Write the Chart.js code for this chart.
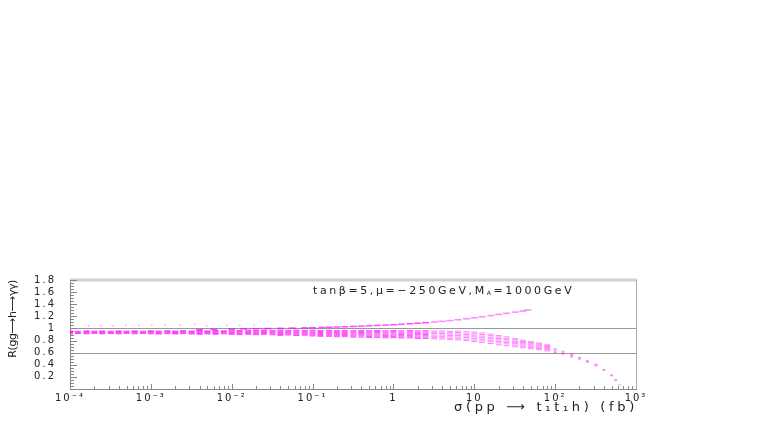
<!DOCTYPE html>
<html>
<head>
<meta charset="utf-8">
<script src="https://cdn.jsdelivr.net/npm/chart.js@4/dist/chart.umd.min.js"></script>
<style>
  html, body { margin: 0; padding: 0; background: #fff; }
  #chart { display: block; }
</style>
</head>
<body>
<canvas id="chart" width="763" height="436"></canvas>
<script>
// x axis: sigma(pp -> t1 t1 h) in fb, log scale
const xMin = 1e-4;
const xMax = 1e3;
const xTickValues = [1e-4, 1e-3, 1e-2, 1e-1, 1, 10, 1e2, 1e3];
const xTickLabels = ['10⁻⁴', '10⁻³', '10⁻²', '10⁻¹', '1', '10', '10²', '10³'];

// y axis: R(gg -> h -> gamma gamma)
const yMin = 0;
const yMax = 1.8;
const yStep = 0.2;
const refLines = [1, 0.6];

// main band: one x column and the y values read at that column
const bandX = [
  1.0e-4, 1.25e-4, 1.6e-4, 2.0e-4, 2.5e-4, 3.2e-4, 4.0e-4, 5.0e-4, 6.3e-4, 8.0e-4,
  1.0e-3, 1.25e-3, 1.6e-3, 2.0e-3, 2.5e-3, 3.2e-3, 4.0e-3, 5.0e-3, 6.3e-3, 8.0e-3,
  1.0e-2, 1.25e-2, 1.6e-2, 2.0e-2, 2.5e-2, 3.2e-2, 4.0e-2, 5.0e-2, 6.3e-2, 8.0e-2,
  0.1, 0.125, 0.16, 0.2, 0.25, 0.32, 0.4, 0.5, 0.63, 0.8,
  1, 1.25, 1.6, 2, 2.5, 3.2, 4, 5, 6.3, 8,
  10, 12.5, 16, 20, 25, 32, 40, 50, 63, 80,
  100, 125, 160, 200, 250, 320, 400, 500, 560, 630
];
const bandY = [
  [0.958, 0.946, 0.934, 0.921, 0.910],
  [0.953, 0.941, 0.929, 0.917],
  [0.960, 0.948, 0.936, 0.923, 0.912],
  [0.955, 0.943, 0.931, 0.918],
  [0.959, 0.947, 0.935, 0.922, 0.911],
  [0.954, 0.942, 0.930, 0.916],
  [0.960, 0.948, 0.936, 0.924, 0.912],
  [0.956, 0.944, 0.931, 0.918],
  [0.961, 0.949, 0.937, 0.925, 0.911],
  [0.955, 0.943, 0.930, 0.917],

  [0.962, 0.950, 0.938, 0.925, 0.912],
  [0.957, 0.945, 0.932, 0.919, 0.907],
  [0.963, 0.951, 0.939, 0.926, 0.913],
  [0.958, 0.946, 0.933, 0.920, 0.908],
  [0.964, 0.952, 0.940, 0.927, 0.914],
  [0.959, 0.947, 0.934, 0.921, 0.907],
  [0.966, 0.953, 0.941, 0.928, 0.915, 0.903],
  [0.960, 0.948, 0.935, 0.922, 0.909],
  [0.967, 0.955, 0.942, 0.929, 0.916, 0.903],
  [0.962, 0.949, 0.936, 0.923, 0.910],

  [0.972, 0.958, 0.944, 0.930, 0.916, 0.902],
  [0.966, 0.952, 0.938, 0.924, 0.910, 0.898],
  [0.974, 0.960, 0.946, 0.932, 0.918, 0.903],
  [0.968, 0.954, 0.940, 0.926, 0.912, 0.897],
  [0.975, 0.961, 0.947, 0.933, 0.918, 0.902],
  [0.969, 0.955, 0.941, 0.926, 0.911, 0.895],
  [0.974, 0.960, 0.945, 0.930, 0.915, 0.899, 0.886],
  [0.968, 0.953, 0.938, 0.923, 0.908, 0.892],
  [0.973, 0.958, 0.943, 0.928, 0.912, 0.896, 0.882],
  [0.967, 0.952, 0.936, 0.920, 0.904, 0.888],

  [0.972, 0.956, 0.940, 0.924, 0.908, 0.892, 0.876],
  [0.965, 0.949, 0.933, 0.917, 0.901, 0.885, 0.870],
  [0.970, 0.954, 0.938, 0.921, 0.904, 0.887, 0.870],
  [0.964, 0.948, 0.931, 0.914, 0.897, 0.880, 0.864],
  [0.969, 0.952, 0.935, 0.918, 0.900, 0.882, 0.864],
  [0.963, 0.946, 0.928, 0.910, 0.892, 0.874, 0.856],
  [0.968, 0.950, 0.932, 0.914, 0.896, 0.877, 0.858],
  [0.962, 0.944, 0.926, 0.907, 0.888, 0.869, 0.851],
  [0.967, 0.949, 0.930, 0.911, 0.892, 0.872, 0.852],
  [0.961, 0.942, 0.923, 0.904, 0.885, 0.865, 0.846],

  [0.966, 0.947, 0.928, 0.909, 0.889, 0.869, 0.849],
  [0.960, 0.941, 0.921, 0.901, 0.881, 0.861, 0.842],
  [0.965, 0.945, 0.925, 0.905, 0.885, 0.864, 0.843],
  [0.959, 0.939, 0.918, 0.897, 0.876, 0.855, 0.836],
  [0.963, 0.942, 0.921, 0.900, 0.879, 0.857, 0.835],
  [0.957, 0.936, 0.914, 0.892, 0.870, 0.848, 0.828],
  [0.960, 0.938, 0.916, 0.893, 0.870, 0.847, 0.824],
  [0.953, 0.930, 0.907, 0.884, 0.861, 0.838, 0.816],
  [0.955, 0.932, 0.908, 0.884, 0.860, 0.835, 0.810],
  [0.946, 0.922, 0.898, 0.874, 0.849, 0.824, 0.800],

  [0.940, 0.914, 0.888, 0.862, 0.836, 0.810, 0.784],
  [0.925, 0.899, 0.873, 0.847, 0.821, 0.795, 0.770],
  [0.905, 0.880, 0.855, 0.830, 0.805, 0.780, 0.752],
  [0.882, 0.858, 0.834, 0.810, 0.786, 0.762, 0.730],
  [0.860, 0.837, 0.814, 0.791, 0.768, 0.745, 0.715],
  [0.832, 0.811, 0.790, 0.769, 0.748, 0.725, 0.698],
  [0.805, 0.786, 0.767, 0.748, 0.728, 0.705, 0.680],
  [0.782, 0.765, 0.747, 0.728, 0.708, 0.685, 0.662],
  [0.760, 0.743, 0.726, 0.708, 0.689, 0.668, 0.648],
  [0.730, 0.715, 0.700, 0.684, 0.667, 0.648, 0.630],

  [0.665, 0.645, 0.625, 0.605, 0.590],
  [0.625, 0.607, 0.590, 0.572],
  [0.572, 0.558, 0.543, 0.530],
  [0.522, 0.508, 0.495],
  [0.468, 0.455, 0.442],
  [0.408, 0.395, 0.382],
  [0.322, 0.310],
  [0.232, 0.218],
  [0.150, 0.140],
  [0.068]
];

// upper branch that rises above 1
const upperX = [0.004, 0.006, 0.01, 0.014, 0.02, 0.028, 0.04, 0.056, 0.08, 0.1,
  0.13, 0.16, 0.2, 0.25, 0.32, 0.4, 0.5, 0.63, 0.8, 1,
  1.25, 1.6, 2, 2.5, 3.2, 4, 5, 6.3, 8, 10,
  12.5, 16, 20, 25, 32, 40, 46];
const upperY = [0.982, 0.986, 0.99, 0.993, 0.996, 0.999, 1.002, 1.006, 1.01, 1.013,
  1.016, 1.02, 1.024, 1.028, 1.033, 1.038, 1.043, 1.049, 1.055, 1.062,
  1.069, 1.077, 1.086, 1.095, 1.106, 1.117, 1.13, 1.144, 1.16, 1.176,
  1.193, 1.212, 1.232, 1.25, 1.27, 1.288, 1.305];

// a few lone points just above the band
const strayX = [1.7e-4, 2.4e-4, 3.4e-4, 4.9e-4, 7.1e-4, 1.03e-3, 1.5e-3, 2.3e-3, 3.5e-3, 4.9e-3, 8.7e-3, 1.26e-2, 1.9e-2];
const strayY = [1.045, 1.04, 1.045, 1.05, 1.05, 1.055, 1.055, 1.06, 1.065, 1.04, 1.05, 1.05, 1.055];

const labelText = 'tanβ=5,μ=−250GeV,M';
const labelSub = 'A';
const labelTail = '=1000GeV';
const xTitle = 'σ(pp ⟶ t₁t₁h) (fb)';
const yTitle = 'R(gg⟶h⟶γγ)';

var bandPoints = [];
bandX.forEach((x, i) => {
  bandY[i].forEach(y => bandPoints.push({x: x, y: y}));
});
var upperPoints = upperX.map((x, i) => ({x: x, y: upperY[i]}));
var strayPoints = strayX.map((x, i) => ({x: x, y: strayY[i]}));

function pinkFor(ctx) {
  let p = ctx.raw;
  if (p && p.x > 3) {
    return 'rgba(255,80,255,0.7)';
  }
  return 'rgba(255,0,255,0.7)';
}

function dashFor(ctx) {
  let p = ctx.raw;
  if (p && p.x > 90) {
    return 1.5;
  }
  return 3;
}

// draws text so that it fills a given width, the way the old plot font is spaced
function spacedText(ctx, text, x, y, width) {
  ctx.letterSpacing = '0px';
  let w0 = ctx.measureText(text).width;
  let n = [...text].length;
  let sp = Math.max(-0.4, (width - w0) / n);
  ctx.letterSpacing = sp + 'px';
  ctx.fillText(text, x, y);
}

const framePlugin = {
  id: 'frame',
  beforeDraw(chart) {
    chart.ctx.letterSpacing = '2px';
  },
  beforeDatasetsDraw(chart) {
    const ctx = chart.ctx;
    const a = chart.chartArea;
    const ys = chart.scales.y;
    const xs = chart.scales.x;
    ctx.save();
    ctx.letterSpacing = '0px';
    // reference lines
    ctx.strokeStyle = '#999';
    ctx.lineWidth = 1;
    refLines.forEach(v => {
      let py = Math.round(ys.getPixelForValue(v)) + 0.5;
      ctx.beginPath();
      ctx.moveTo(a.left, py);
      ctx.lineTo(a.right, py);
      ctx.stroke();
    });
    // top and right frame
    ctx.strokeStyle = '#d0d0d0';
    ctx.lineWidth = 3;
    ctx.beginPath();
    ctx.moveTo(a.left, a.top);
    ctx.lineTo(a.right + 1, a.top);
    ctx.stroke();
    ctx.strokeStyle = '#aaa';
    ctx.lineWidth = 1;
    ctx.beginPath();
    ctx.moveTo(a.right + 0.5, a.top);
    ctx.lineTo(a.right + 0.5, a.bottom);
    ctx.stroke();
    // tick marks pointing inwards
    ctx.strokeStyle = '#888';
    for (let d = -4; d < 3; d++) {
      for (let m = 1; m < 10; m++) {
        let px = Math.round(xs.getPixelForValue(m * Math.pow(10, d))) + 0.5;
        let len = m == 1 ? 5 : 3;
        ctx.beginPath();
        ctx.moveTo(px, a.bottom);
        ctx.lineTo(px, a.bottom - len);
        ctx.stroke();
      }
    }
    for (let i = 0; i <= 36; i++) {
      let v = i * 0.05;
      let py = Math.round(ys.getPixelForValue(v)) + 0.5;
      let len = i % 4 == 0 ? 7 : 4;
      ctx.beginPath();
      ctx.moveTo(a.left, py);
      ctx.lineTo(a.left + len, py);
      ctx.stroke();
    }
    // parameter label
    ctx.fillStyle = '#222';
    ctx.textBaseline = 'alphabetic';
    ctx.font = '11px "DejaVu Sans"';
    ctx.letterSpacing = '2.6px';
    let tx = 313;
    let ty = 294;
    ctx.fillText(labelText, tx, ty);
    tx += ctx.measureText(labelText).width;
    ctx.font = '6px "DejaVu Sans"';
    ctx.fillText(labelSub, tx, ty + 1);
    tx += ctx.measureText(labelSub).width;
    ctx.font = '11px "DejaVu Sans"';
    ctx.fillText(labelTail, tx, ty);

    // axis titles
    ctx.font = '13px "DejaVu Sans"';
    ctx.textAlign = 'right';
    ctx.textBaseline = 'middle';
    spacedText(ctx, xTitle, a.right + 2, 408, 184);
    ctx.font = '11px "DejaVu Sans"';
    ctx.translate(13, a.top);
    ctx.rotate(-Math.PI / 2);
    ctx.textAlign = 'right';
    spacedText(ctx, yTitle, 0, 0, 76);
    ctx.restore();
  },
  afterDraw(chart) {
    chart.ctx.letterSpacing = '0px';
  }
};

new Chart('chart', {
  type: 'scatter',
  data: {
    datasets: [{
      data: bandPoints,
      pointStyle: 'line',
      pointRadius: dashFor,
      borderWidth: 1,
      borderColor: pinkFor,
      backgroundColor: pinkFor
    }, {
      data: upperPoints,
      pointStyle: 'line',
      pointRadius: 3.5,
      borderWidth: 1.5,
      borderColor: pinkFor,
      backgroundColor: pinkFor
    }, {
      data: strayPoints,
      pointStyle: 'rect',
      pointRadius: 1,
      borderWidth: 0,
      backgroundColor: 'rgba(255,120,255,0.8)'
    }]
  },
  options: {
    responsive: false,
    animation: false,
    devicePixelRatio: 1,
    layout: { padding: { top: 280, left: 0, right: 127, bottom: 0 } },
    plugins: {
      legend: { display: false },
      tooltip: { enabled: false }
    },
    scales: {
      x: {
        type: 'logarithmic',
        min: xMin,
        max: xMax,
        afterFit: s => { s.height = 47; },
        afterBuildTicks: s => { s.ticks = xTickValues.map(v => ({value: v})); },
        grid: { display: false, drawTicks: false },
        border: { color: '#888', width: 1 },
        ticks: {
          autoSkip: false,
          maxRotation: 0,
          padding: 3,
          color: '#222',
          font: { family: 'DejaVu Sans', size: 10 },
          callback: (v) => {
            let i = xTickValues.findIndex(t => Math.abs(Math.log10(t) - Math.log10(v)) < 1e-6);
            return i < 0 ? '' : xTickLabels[i];
          }
        }
      },
      y: {
        min: yMin,
        max: yMax,
        afterFit: s => { s.width = 70; },
        grid: { display: false, drawTicks: false },
        border: { color: '#888', width: 1 },
        ticks: {
          stepSize: yStep,
          autoSkip: false,
          padding: 14,
          color: '#222',
          font: { family: 'DejaVu Sans', size: 10 },
          callback: (v) => v < 0.1 ? '' : String(+v.toFixed(1))
        }
      }
    }
  },
  plugins: [framePlugin]
});
</script>
</body>
</html>
